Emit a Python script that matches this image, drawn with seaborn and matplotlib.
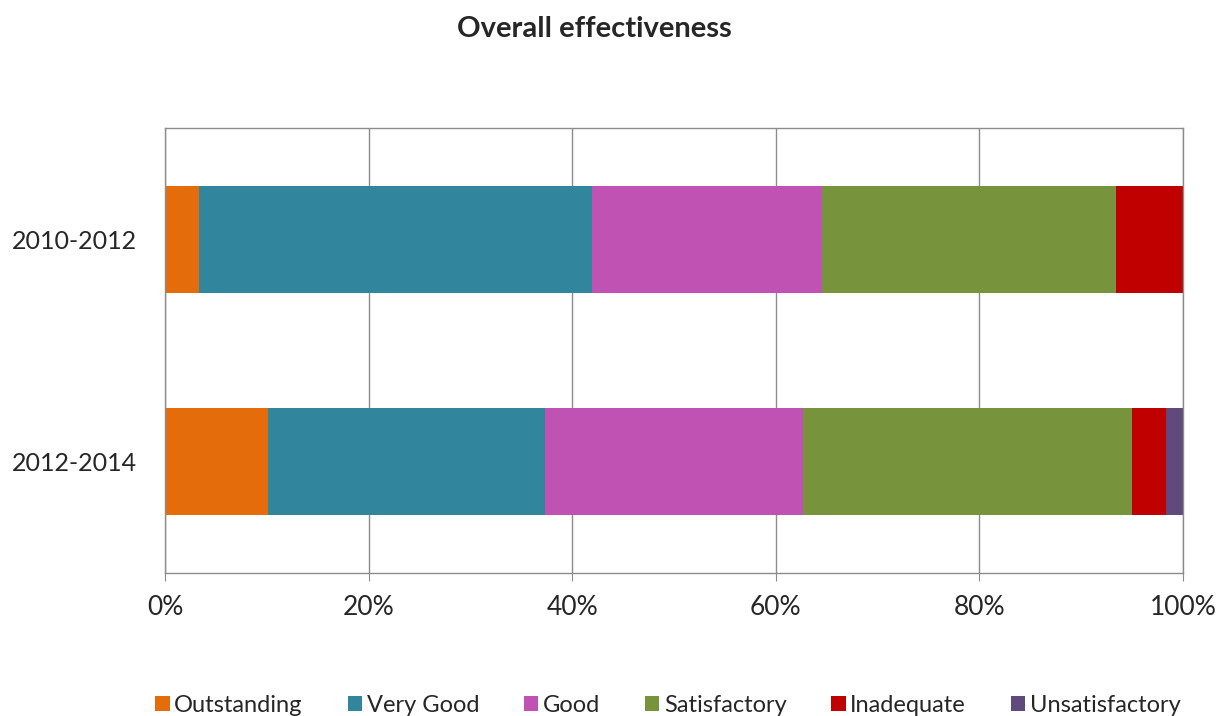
import numpy as np
import pandas as pd
import matplotlib.pyplot as plt
import seaborn as sns
from matplotlib.patches import Patch
from matplotlib.ticker import PercentFormatter

periods = ["2010-2012", "2012-2014"]
categories = ["Outstanding", "Very Good", "Good", "Satisfactory", "Inadequate", "Unsatisfactory"]
outstanding = [3.3, 10.1]
very_good = [38.6, 27.2]
good = [22.6, 25.4]
satisfactory = [28.9, 32.3]
inadequate = [6.6, 3.3]
unsatisfactory = [0.0, 1.7]
colors = ["#E46C0A", "#31859C", "#C052B4", "#77933C", "#C00000", "#604A7B"]

sns.set_style("white")
plt.rcParams["font.family"] = ["Lato", "DejaVu Sans"]

df = pd.DataFrame(
    [outstanding, very_good, good, satisfactory, inadequate, unsatisfactory],
    index=categories, columns=periods,
).T
cum = df.cumsum(axis=1)

fig = plt.figure(figsize=(12.19, 7.16), dpi=100)
ax = fig.add_axes([0.1354, 0.1997, 0.8351, 0.6215])

# stacked bars: draw cumulative totals from the right-most segment backwards
for cat, color in reversed(list(zip(categories, colors))):
    sns.barplot(x=cum[cat].values, y=periods, color=color, orient="h",
                width=0.48, ax=ax, saturation=1, linewidth=0)

ax.set_xlim(0, 100)
ax.set_xticks(np.arange(0, 101, 20))
ax.xaxis.set_major_formatter(PercentFormatter(decimals=0))
ax.grid(axis="x", color="#8c8c8c", linewidth=1)
ax.set_axisbelow(True)
for s in ax.spines.values():
    s.set_color("#8c8c8c")
    s.set_linewidth(1)
ax.tick_params(axis="x", direction="out", length=6, color="#8c8c8c", labelsize=19, pad=10, bottom=True)
ax.tick_params(axis="y", length=0, labelsize=18, pad=20)
ax.set_xlabel("")
ax.set_ylabel("")

fig.suptitle("Overall effectiveness", x=0.488, y=0.978, fontsize=21, fontweight="bold")

handles = [Patch(facecolor=c, edgecolor="none") for c in colors]
fig.legend(handles, categories, loc="lower center", bbox_to_anchor=(0.548, -0.03),
           ncol=6, frameon=False, fontsize=17, handlelength=0.6, handleheight=0.6,
           handletextpad=0.2, columnspacing=1.9)

plt.savefig("out.png", dpi=100)
plt.close()
